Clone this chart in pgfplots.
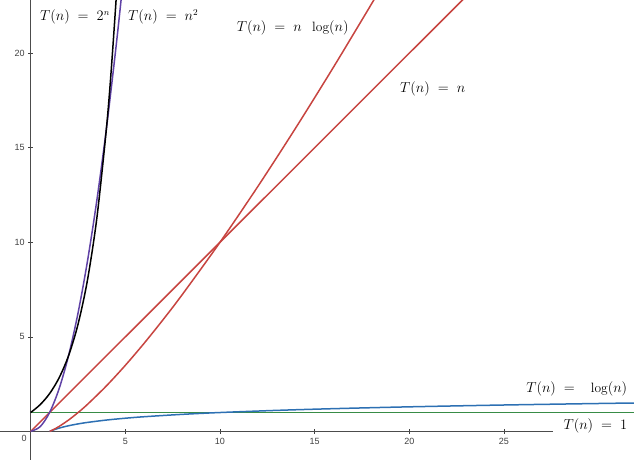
\documentclass[border=0pt]{standalone}
\usepackage{pgfplots}
\pgfplotsset{compat=1.18}
\usepackage{fontspec}
\newfontfamily\ticksans{Liberation Sans}
\definecolor{dred}{HTML}{C74440}
\definecolor{dblue}{HTML}{2D70B3}
\definecolor{dgreen}{HTML}{388C46}
\definecolor{dpurple}{HTML}{6042A6}
\begin{document}
\begin{tikzpicture}
\begin{axis}[
  scale only axis, width=634pt, height=460pt,
  xmin=-1.62, xmax=31.87, ymin=-1.51, ymax=22.81,
  axis lines=middle, axis line style={draw=none},
  xtick={5,10,15,20,25}, ytick={5,10,15,20},
  tick align=center, major tick length=5pt,
  tick style={draw=black!75, line width=0.6pt},
  /pgf/number format/assume math mode=true,
  ticklabel style={font=\fontsize{9}{10}\selectfont\ticksans, text=black!75},
  xticklabel style={anchor=north, yshift=-1pt},
  yticklabel style={anchor=east, xshift=0pt},
  every axis plot/.append style={line width=1.5pt},
]
\draw[black!70, line width=0.8pt] (axis cs:-1.62,0) -- (axis cs:27.6,0);
\draw[black!70, line width=0.8pt] (axis cs:0,-1.51) -- (axis cs:0,22.81);
% T(n) = 1
\addplot[dgreen] coordinates {(0,1) (32,1)};
% T(n) = log(n)
\addplot[dblue, smooth] coordinates {(1,0) (1.2,0.0792) (1.5,0.1761) (2,0.30103) (2.5,0.39794) (3,0.4771) (4,0.6021) (5,0.699) (6,0.7782) (8,0.9031) (10,1) (13,1.1139) (16,1.2041) (20,1.3010) (25,1.3979) (30,1.4771) (32,1.5051)};
% T(n) = n
\addplot[dred] coordinates {(0,0) (24,24)};
% T(n) = n log(n)
\addplot[dred, smooth] coordinates {(1,0) (1.2,0.095) (1.5,0.264) (2,0.602) (2.5,0.995) (3,1.431) (4,2.408) (5,3.495) (6,4.669) (7,5.916) (8,7.225) (10,10) (12,12.950) (14,16.046) (16,19.266) (18,22.595) (19,24.296)};
% T(n) = n^2
\addplot[dpurple, smooth] coordinates {(0,0) (0.5,0.25) (1,1) (1.5,2.25) (2,4) (2.5,6.25) (3,9) (3.5,12.25) (4,16) (4.5,20.25) (4.8,23.04)};
% T(n) = 2^n
\addplot[black, smooth] coordinates {(0,1) (0.5,1.414) (1,2) (1.5,2.828) (2,4) (2.5,5.657) (3,8) (3.5,11.314) (4,16) (4.25,19.03) (4.5,22.63) (4.6,24.25)};
\node[font=\fontsize{9}{10}\selectfont\ticksans, text=black!75] at (axis cs:-0.35,-0.36) {0};
\begin{scope}[every node/.style={anchor=west, inner sep=0pt, font=\fontsize{13.5}{15}\selectfont}]
\node at (axis cs:0.49,21.9) {$T(n)\;=\;2^{n}$};
\node at (axis cs:5.14,21.9) {$T(n)\;=\;n^{2}$};
\node at (axis cs:10.88,21.35) {$T(n)\;=\;n\;\;\log(n)$};
\node at (axis cs:19.51,18.1) {$T(n)\;=\;n$};
\node at (axis cs:26.17,2.27) {$T(n)\;=\;\;\;\log(n)$};
\node at (axis cs:28.14,0.30) {$T(n)\;=\;1$};
\end{scope}
\end{axis}
\pgfresetboundingbox
\path (current axis.south west) rectangle (current axis.north east);
\end{tikzpicture}
\end{document}
